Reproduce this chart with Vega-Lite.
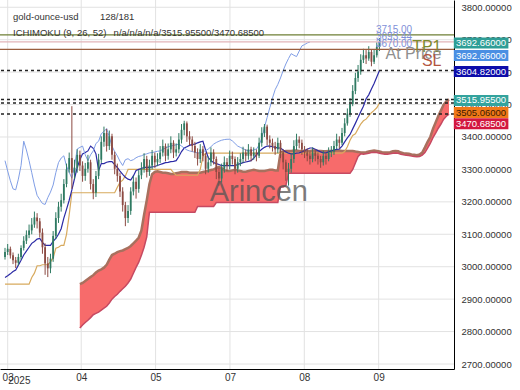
{
"$schema": "https://vega.github.io/schema/vega-lite/v6.json",
"width": 454, "height": 369,
"autosize": {"type": "none"},
"padding": {"left": 0, "top": 0, "right": 66, "bottom": 21},
"background": "#ffffff",
"config": {"view": {"stroke": null}, "font": "Liberation Sans"},
"resolve": {"axis": {"x": "independent", "y": "independent"}},
"datasets": {
"gridx": [{"g":1},{"g":28.5},{"g":56.3},{"g":84.1},{"g":111.9},{"g":139.7}],
"gridy": [{"g":2700},{"g":2800},{"g":2900},{"g":3000},{"g":3100},{"g":3200},{"g":3300},{"g":3400},{"g":3500},{"g":3600},{"g":3700},{"g":3800}],
"bars": [
{"i":0,"o":3030,"h":3058,"l":3022,"c":3045,"tk":2967,"kj":2946,"ck":3327},
{"i":1,"o":3045,"h":3070,"l":3036,"c":3055,"tk":2972,"kj":2946,"ck":3295},
{"i":2,"o":3055,"h":3062,"l":3025,"c":3035,"tk":2978,"kj":2946,"ck":3265},
{"i":3,"o":3035,"h":3044,"l":3008,"c":3020,"tk":2985,"kj":2946,"ck":3240},
{"i":4,"o":3020,"h":3030,"l":2996,"c":3012,"tk":2990,"kj":2946,"ck":3237},
{"i":5,"o":3012,"h":3040,"l":3004,"c":3030,"tk":3005,"kj":2946,"ck":3270},
{"i":6,"o":3030,"h":3066,"l":3022,"c":3058,"tk":3020,"kj":2946,"ck":3312},
{"i":7,"o":3058,"h":3094,"l":3050,"c":3080,"tk":3036,"kj":2946,"ck":3387},
{"i":8,"o":3080,"h":3112,"l":3070,"c":3098,"tk":3048,"kj":2946,"ck":3360},
{"i":9,"o":3098,"h":3130,"l":3088,"c":3112,"tk":3060,"kj":2946,"ck":3327},
{"i":10,"o":3112,"h":3150,"l":3100,"c":3130,"tk":3072,"kj":2967,"ck":3290},
{"i":11,"o":3130,"h":3170,"l":3120,"c":3152,"tk":3078,"kj":2980,"ck":3252},
{"i":12,"o":3152,"h":3165,"l":3118,"c":3140,"tk":3085,"kj":3003,"ck":3220},
{"i":13,"o":3140,"h":3150,"l":3090,"c":3105,"tk":3087,"kj":3003,"ck":3207},
{"i":14,"o":3105,"h":3118,"l":3040,"c":3060,"tk":3075,"kj":3006,"ck":3195},
{"i":15,"o":3060,"h":3072,"l":2975,"c":3010,"tk":3066,"kj":3006,"ck":3192},
{"i":16,"o":3010,"h":3030,"l":2968,"c":2995,"tk":3066,"kj":3006,"ck":3213},
{"i":17,"o":2995,"h":3040,"l":2980,"c":3025,"tk":3066,"kj":3015,"ck":3230},
{"i":18,"o":3025,"h":3110,"l":3015,"c":3095,"tk":3078,"kj":3027,"ck":3252},
{"i":19,"o":3095,"h":3168,"l":3085,"c":3150,"tk":3087,"kj":3057,"ck":3290},
{"i":20,"o":3150,"h":3200,"l":3135,"c":3185,"tk":3100,"kj":3060,"ck":3321},
{"i":21,"o":3185,"h":3225,"l":3170,"c":3205,"tk":3117,"kj":3066,"ck":3335},
{"i":22,"o":3205,"h":3270,"l":3195,"c":3255,"tk":3150,"kj":3066,"ck":3342},
{"i":23,"o":3255,"h":3318,"l":3245,"c":3300,"tk":3177,"kj":3100,"ck":3310},
{"i":24,"o":3300,"h":3352,"l":3290,"c":3335,"tk":3205,"kj":3160,"ck":3291},
{"i":25,"o":3335,"h":3495,"l":3240,"c":3290,"tk":3237,"kj":3228,"ck":3273},
{"i":26,"o":3290,"h":3330,"l":3270,"c":3305,"tk":3272,"kj":3228,"ck":3310},
{"i":27,"o":3305,"h":3362,"l":3290,"c":3345,"tk":3306,"kj":3228,"ck":3363},
{"i":28,"o":3345,"h":3358,"l":3295,"c":3312,"tk":3330,"kj":3228,"ck":3368},
{"i":29,"o":3312,"h":3325,"l":3262,"c":3280,"tk":3348,"kj":3228,"ck":3372},
{"i":30,"o":3280,"h":3320,"l":3265,"c":3302,"tk":3352,"kj":3228,"ck":3345},
{"i":31,"o":3302,"h":3345,"l":3290,"c":3322,"tk":3357,"kj":3228,"ck":3327},
{"i":32,"o":3322,"h":3330,"l":3238,"c":3255,"tk":3372,"kj":3228,"ck":3345},
{"i":33,"o":3255,"h":3270,"l":3208,"c":3228,"tk":3365,"kj":3228,"ck":3357},
{"i":34,"o":3228,"h":3295,"l":3215,"c":3280,"tk":3348,"kj":3228,"ck":3380},
{"i":35,"o":3280,"h":3348,"l":3270,"c":3330,"tk":3297,"kj":3228,"ck":3387},
{"i":36,"o":3330,"h":3402,"l":3320,"c":3385,"tk":3318,"kj":3228,"ck":3410},
{"i":37,"o":3385,"h":3432,"l":3370,"c":3412,"tk":3318,"kj":3228,"ck":3417},
{"i":38,"o":3412,"h":3425,"l":3355,"c":3372,"tk":3322,"kj":3228,"ck":3426},
{"i":39,"o":3372,"h":3420,"l":3360,"c":3402,"tk":3324,"kj":3228,"ck":3400},
{"i":40,"o":3402,"h":3410,"l":3330,"c":3345,"tk":3324,"kj":3228,"ck":3372},
{"i":41,"o":3345,"h":3355,"l":3285,"c":3302,"tk":3315,"kj":3228,"ck":3355},
{"i":42,"o":3302,"h":3318,"l":3262,"c":3280,"tk":3306,"kj":3245,"ck":3342},
{"i":43,"o":3280,"h":3290,"l":3215,"c":3232,"tk":3295,"kj":3260,"ck":3325},
{"i":44,"o":3232,"h":3245,"l":3170,"c":3190,"tk":3285,"kj":3267,"ck":3312},
{"i":45,"o":3190,"h":3200,"l":3125,"c":3150,"tk":3276,"kj":3280,"ck":3330},
{"i":46,"o":3150,"h":3190,"l":3135,"c":3172,"tk":3270,"kj":3300,"ck":3333},
{"i":47,"o":3172,"h":3245,"l":3160,"c":3232,"tk":3267,"kj":3300,"ck":3327},
{"i":48,"o":3232,"h":3280,"l":3220,"c":3262,"tk":3280,"kj":3300,"ck":3330},
{"i":49,"o":3262,"h":3275,"l":3210,"c":3240,"tk":3297,"kj":3300,"ck":3336},
{"i":50,"o":3240,"h":3298,"l":3228,"c":3282,"tk":3300,"kj":3300,"ck":3340},
{"i":51,"o":3282,"h":3322,"l":3270,"c":3302,"tk":3303,"kj":3300,"ck":3342},
{"i":52,"o":3302,"h":3350,"l":3290,"c":3332,"tk":3306,"kj":3300,"ck":3346},
{"i":53,"o":3332,"h":3342,"l":3275,"c":3292,"tk":3306,"kj":3300,"ck":3348},
{"i":54,"o":3292,"h":3330,"l":3280,"c":3312,"tk":3306,"kj":3300,"ck":3351},
{"i":55,"o":3312,"h":3360,"l":3300,"c":3342,"tk":3308,"kj":3300,"ck":3352},
{"i":56,"o":3342,"h":3352,"l":3305,"c":3322,"tk":3309,"kj":3300,"ck":3354},
{"i":57,"o":3322,"h":3350,"l":3310,"c":3332,"tk":3312,"kj":3300,"ck":3356},
{"i":58,"o":3332,"h":3372,"l":3320,"c":3352,"tk":3315,"kj":3300,"ck":3357},
{"i":59,"o":3352,"h":3392,"l":3340,"c":3372,"tk":3318,"kj":3300,"ck":3362},
{"i":60,"o":3372,"h":3380,"l":3325,"c":3342,"tk":3321,"kj":3300,"ck":3366},
{"i":61,"o":3342,"h":3380,"l":3330,"c":3362,"tk":3322,"kj":3300,"ck":3370},
{"i":62,"o":3362,"h":3402,"l":3350,"c":3382,"tk":3324,"kj":3300,"ck":3372},
{"i":63,"o":3382,"h":3390,"l":3335,"c":3352,"tk":3325,"kj":3290,"ck":3374},
{"i":64,"o":3352,"h":3380,"l":3340,"c":3362,"tk":3327,"kj":3282,"ck":3376},
{"i":65,"o":3362,"h":3412,"l":3350,"c":3392,"tk":3340,"kj":3282,"ck":3378},
{"i":66,"o":3392,"h":3440,"l":3380,"c":3422,"tk":3355,"kj":3282,"ck":3372},
{"i":67,"o":3422,"h":3450,"l":3405,"c":3442,"tk":3366,"kj":3282,"ck":3366},
{"i":68,"o":3442,"h":3448,"l":3385,"c":3402,"tk":3370,"kj":3282,"ck":3360},
{"i":69,"o":3402,"h":3418,"l":3375,"c":3392,"tk":3374,"kj":3282,"ck":3357},
{"i":70,"o":3392,"h":3402,"l":3355,"c":3372,"tk":3377,"kj":3282,"ck":3355},
{"i":71,"o":3372,"h":3385,"l":3335,"c":3352,"tk":3378,"kj":3282,"ck":3353},
{"i":72,"o":3352,"h":3365,"l":3312,"c":3332,"tk":3382,"kj":3282,"ck":3351},
{"i":73,"o":3332,"h":3378,"l":3320,"c":3362,"tk":3385,"kj":3300,"ck":3351},
{"i":74,"o":3362,"h":3372,"l":3325,"c":3342,"tk":3387,"kj":3340,"ck":3355},
{"i":75,"o":3342,"h":3350,"l":3285,"c":3302,"tk":3360,"kj":3350,"ck":3358},
{"i":76,"o":3302,"h":3340,"l":3290,"c":3322,"tk":3336,"kj":3350,"ck":3363},
{"i":77,"o":3322,"h":3368,"l":3310,"c":3352,"tk":3328,"kj":3350,"ck":3370},
{"i":78,"o":3352,"h":3362,"l":3315,"c":3332,"tk":3321,"kj":3350,"ck":3378},
{"i":79,"o":3332,"h":3340,"l":3270,"c":3292,"tk":3318,"kj":3350,"ck":3383},
{"i":80,"o":3292,"h":3305,"l":3250,"c":3272,"tk":3315,"kj":3350,"ck":3387},
{"i":81,"o":3272,"h":3318,"l":3260,"c":3302,"tk":3312,"kj":3350,"ck":3390},
{"i":82,"o":3302,"h":3340,"l":3290,"c":3322,"tk":3312,"kj":3350,"ck":3392},
{"i":83,"o":3322,"h":3335,"l":3295,"c":3312,"tk":3312,"kj":3350,"ck":3393},
{"i":84,"o":3312,"h":3358,"l":3300,"c":3342,"tk":3312,"kj":3350,"ck":3393},
{"i":85,"o":3342,"h":3355,"l":3315,"c":3332,"tk":3312,"kj":3350,"ck":3388},
{"i":86,"o":3332,"h":3340,"l":3285,"c":3302,"tk":3312,"kj":3350,"ck":3380},
{"i":87,"o":3302,"h":3338,"l":3290,"c":3322,"tk":3315,"kj":3350,"ck":3372},
{"i":88,"o":3322,"h":3350,"l":3310,"c":3332,"tk":3318,"kj":3350,"ck":3368},
{"i":89,"o":3332,"h":3370,"l":3320,"c":3352,"tk":3321,"kj":3350,"ck":3364},
{"i":90,"o":3352,"h":3362,"l":3325,"c":3342,"tk":3323,"kj":3350,"ck":3360},
{"i":91,"o":3342,"h":3378,"l":3330,"c":3362,"tk":3325,"kj":3350,"ck":3357},
{"i":92,"o":3362,"h":3370,"l":3325,"c":3342,"tk":3327,"kj":3350,"ck":3358},
{"i":93,"o":3342,"h":3368,"l":3330,"c":3352,"tk":3335,"kj":3350,"ck":3360},
{"i":94,"o":3352,"h":3362,"l":3325,"c":3342,"tk":3345,"kj":3350,"ck":3363},
{"i":95,"o":3342,"h":3398,"l":3335,"c":3382,"tk":3355,"kj":3350,"ck":3375},
{"i":96,"o":3382,"h":3430,"l":3370,"c":3412,"tk":3362,"kj":3350,"ck":3396},
{"i":97,"o":3412,"h":3440,"l":3400,"c":3432,"tk":3368,"kj":3350,"ck":3430},
{"i":98,"o":3432,"h":3438,"l":3375,"c":3392,"tk":3372,"kj":3350,"ck":3460},
{"i":99,"o":3392,"h":3405,"l":3365,"c":3382,"tk":3372,"kj":3350,"ck":3490},
{"i":100,"o":3382,"h":3395,"l":3355,"c":3372,"tk":3370,"kj":3350,"ck":3520},
{"i":101,"o":3372,"h":3385,"l":3345,"c":3362,"tk":3368,"kj":3350,"ck":3546},
{"i":102,"o":3362,"h":3398,"l":3350,"c":3382,"tk":3366,"kj":3350,"ck":3562},
{"i":103,"o":3382,"h":3390,"l":3335,"c":3352,"tk":3366,"kj":3350,"ck":3582},
{"i":104,"o":3352,"h":3362,"l":3300,"c":3322,"tk":3360,"kj":3350,"ck":3605},
{"i":105,"o":3322,"h":3330,"l":3265,"c":3292,"tk":3354,"kj":3350,"ck":3625},
{"i":106,"o":3292,"h":3320,"l":3250,"c":3302,"tk":3350,"kj":3350,"ck":3642},
{"i":107,"o":3302,"h":3350,"l":3290,"c":3332,"tk":3348,"kj":3350,"ck":3657},
{"i":108,"o":3332,"h":3390,"l":3320,"c":3372,"tk":3348,"kj":3350,"ck":3652},
{"i":109,"o":3372,"h":3410,"l":3360,"c":3392,"tk":3350,"kj":3350,"ck":3648},
{"i":110,"o":3392,"h":3402,"l":3365,"c":3382,"tk":3351,"kj":3350,"ck":3665},
{"i":111,"o":3382,"h":3392,"l":3345,"c":3362,"tk":3354,"kj":3350,"ck":3681},
{"i":112,"o":3362,"h":3372,"l":3335,"c":3352,"tk":3358,"kj":3350,"ck":3685},
{"i":113,"o":3352,"h":3365,"l":3325,"c":3342,"tk":3362,"kj":3350,"ck":3690},
{"i":114,"o":3342,"h":3355,"l":3315,"c":3332,"tk":3366,"kj":3350,"ck":3692.66},
{"i":115,"o":3332,"h":3368,"l":3322,"c":3352,"tk":3366,"kj":3350},
{"i":116,"o":3352,"h":3362,"l":3325,"c":3342,"tk":3362,"kj":3350},
{"i":117,"o":3342,"h":3352,"l":3315,"c":3332,"tk":3358,"kj":3350},
{"i":118,"o":3332,"h":3342,"l":3305,"c":3322,"tk":3354,"kj":3350},
{"i":119,"o":3322,"h":3358,"l":3312,"c":3342,"tk":3351,"kj":3350},
{"i":120,"o":3342,"h":3352,"l":3315,"c":3332,"tk":3351,"kj":3350},
{"i":121,"o":3332,"h":3368,"l":3325,"c":3352,"tk":3354,"kj":3350},
{"i":122,"o":3352,"h":3372,"l":3338,"c":3355,"tk":3357,"kj":3350},
{"i":123,"o":3355,"h":3388,"l":3345,"c":3372,"tk":3360,"kj":3350},
{"i":124,"o":3372,"h":3410,"l":3362,"c":3392,"tk":3362,"kj":3350},
{"i":125,"o":3392,"h":3402,"l":3365,"c":3382,"tk":3363,"kj":3350},
{"i":126,"o":3382,"h":3428,"l":3375,"c":3412,"tk":3372,"kj":3350},
{"i":127,"o":3412,"h":3458,"l":3402,"c":3442,"tk":3385,"kj":3355},
{"i":128,"o":3442,"h":3488,"l":3435,"c":3472,"tk":3397,"kj":3370},
{"i":129,"o":3472,"h":3520,"l":3462,"c":3502,"tk":3408,"kj":3390},
{"i":130,"o":3502,"h":3560,"l":3495,"c":3542,"tk":3425,"kj":3405},
{"i":131,"o":3542,"h":3598,"l":3532,"c":3582,"tk":3442,"kj":3410},
{"i":132,"o":3582,"h":3622,"l":3570,"c":3602,"tk":3460,"kj":3425},
{"i":133,"o":3602,"h":3655,"l":3592,"c":3638,"tk":3478,"kj":3440},
{"i":134,"o":3638,"h":3672,"l":3628,"c":3652,"tk":3495,"kj":3450},
{"i":135,"o":3652,"h":3668,"l":3625,"c":3642,"tk":3518,"kj":3455},
{"i":136,"o":3642,"h":3680,"l":3635,"c":3662,"tk":3530,"kj":3465},
{"i":137,"o":3662,"h":3670,"l":3618,"c":3632,"tk":3548,"kj":3475},
{"i":138,"o":3632,"h":3670,"l":3625,"c":3652,"tk":3565,"kj":3482},
{"i":139,"o":3652,"h":3692,"l":3645,"c":3678,"tk":3585,"kj":3490},
{"i":140,"o":3678,"h":3705,"l":3665,"c":3692.66,"tk":3604.82,"kj":3505.06}
],
"cloud": [
{"i":28,"sa":2946,"sb":2811},{"i":29,"sa":2950,"sb":2820},{"i":30,"sa":2956,"sb":2828},{"i":31,"sa":2962,"sb":2835},
{"i":32,"sa":2968,"sb":2843},{"i":33,"sa":2974,"sb":2852},{"i":34,"sa":2982,"sb":2856},{"i":35,"sa":2988,"sb":2860},
{"i":36,"sa":2992,"sb":2866},{"i":37,"sa":2997,"sb":2872},{"i":38,"sa":3006,"sb":2878},{"i":39,"sa":3022,"sb":2888},
{"i":40,"sa":3036,"sb":2900},{"i":41,"sa":3040,"sb":2908},{"i":42,"sa":3045,"sb":2915},{"i":43,"sa":3048,"sb":2924},
{"i":44,"sa":3050,"sb":2932},{"i":45,"sa":3054,"sb":2940},{"i":46,"sa":3058,"sb":2950},{"i":47,"sa":3064,"sb":2962},
{"i":48,"sa":3072,"sb":2980},{"i":49,"sa":3080,"sb":2998},{"i":50,"sa":3090,"sb":3014},{"i":51,"sa":3112,"sb":3035},
{"i":52,"sa":3160,"sb":3060},{"i":53,"sa":3205,"sb":3092},{"i":54,"sa":3255,"sb":3168},{"i":55,"sa":3285,"sb":3168},
{"i":56,"sa":3292,"sb":3168},{"i":57,"sa":3294,"sb":3168},{"i":58,"sa":3292,"sb":3168},{"i":59,"sa":3290,"sb":3168},
{"i":60,"sa":3290,"sb":3168},{"i":61,"sa":3288,"sb":3168},{"i":62,"sa":3286,"sb":3168},{"i":63,"sa":3286,"sb":3168},
{"i":64,"sa":3288,"sb":3168},{"i":65,"sa":3290,"sb":3168},{"i":66,"sa":3292,"sb":3168},{"i":67,"sa":3292,"sb":3168},
{"i":68,"sa":3292,"sb":3168},{"i":69,"sa":3290,"sb":3168},{"i":70,"sa":3290,"sb":3168},{"i":71,"sa":3290,"sb":3168},
{"i":72,"sa":3290,"sb":3186},{"i":73,"sa":3290,"sb":3186},{"i":74,"sa":3292,"sb":3186},{"i":75,"sa":3294,"sb":3186},
{"i":76,"sa":3296,"sb":3186},{"i":77,"sa":3298,"sb":3186},{"i":78,"sa":3300,"sb":3186},{"i":79,"sa":3304,"sb":3198},
{"i":80,"sa":3308,"sb":3198},{"i":81,"sa":3304,"sb":3198},{"i":82,"sa":3298,"sb":3198},{"i":83,"sa":3295,"sb":3198},
{"i":84,"sa":3295,"sb":3198},{"i":85,"sa":3297,"sb":3198},{"i":86,"sa":3299,"sb":3198},{"i":87,"sa":3297,"sb":3198},
{"i":88,"sa":3295,"sb":3198},{"i":89,"sa":3293,"sb":3198},{"i":90,"sa":3293,"sb":3198},{"i":91,"sa":3295,"sb":3198},
{"i":92,"sa":3297,"sb":3198},{"i":93,"sa":3299,"sb":3198},{"i":94,"sa":3297,"sb":3198},{"i":95,"sa":3295,"sb":3198},
{"i":96,"sa":3295,"sb":3198},{"i":97,"sa":3295,"sb":3198},{"i":98,"sa":3297,"sb":3198},{"i":99,"sa":3299,"sb":3198},
{"i":100,"sa":3299,"sb":3198},{"i":101,"sa":3297,"sb":3198},{"i":102,"sa":3297,"sb":3198},{"i":103,"sa":3352,"sb":3246},
{"i":104,"sa":3355,"sb":3246},{"i":105,"sa":3357,"sb":3250},{"i":106,"sa":3357,"sb":3288},{"i":107,"sa":3357,"sb":3288},
{"i":108,"sa":3358,"sb":3288},{"i":109,"sa":3358,"sb":3288},{"i":110,"sa":3357,"sb":3288},{"i":111,"sa":3357,"sb":3288},
{"i":112,"sa":3356,"sb":3288},{"i":113,"sa":3356,"sb":3288},{"i":114,"sa":3357,"sb":3288},{"i":115,"sa":3358,"sb":3288},
{"i":116,"sa":3358,"sb":3288},{"i":117,"sa":3357,"sb":3288},{"i":118,"sa":3357,"sb":3288},{"i":119,"sa":3356,"sb":3288},
{"i":120,"sa":3356,"sb":3288},{"i":121,"sa":3357,"sb":3288},{"i":122,"sa":3357,"sb":3288},{"i":123,"sa":3357,"sb":3288},
{"i":124,"sa":3358,"sb":3288},{"i":125,"sa":3358,"sb":3288},{"i":126,"sa":3357,"sb":3288},{"i":127,"sa":3357,"sb":3288},
{"i":128,"sa":3357,"sb":3288},{"i":129,"sa":3357,"sb":3288},{"i":130,"sa":3357,"sb":3300},{"i":131,"sa":3355,"sb":3320},
{"i":132,"sa":3354,"sb":3340},{"i":133,"sa":3352,"sb":3348},{"i":134,"sa":3352,"sb":3347},{"i":135,"sa":3353,"sb":3348},
{"i":136,"sa":3355,"sb":3350},{"i":137,"sa":3357,"sb":3352},{"i":138,"sa":3358,"sb":3353},{"i":139,"sa":3357,"sb":3352},
{"i":140,"sa":3355,"sb":3350},{"i":141,"sa":3353,"sb":3348},{"i":142,"sa":3352,"sb":3347},{"i":143,"sa":3352,"sb":3347},
{"i":144,"sa":3353,"sb":3348},{"i":145,"sa":3356,"sb":3350},{"i":146,"sa":3357,"sb":3351},{"i":147,"sa":3356,"sb":3350},
{"i":148,"sa":3352,"sb":3347},{"i":149,"sa":3350,"sb":3345},{"i":150,"sa":3349,"sb":3344},{"i":151,"sa":3348,"sb":3343},
{"i":152,"sa":3346,"sb":3341},{"i":153,"sa":3345,"sb":3340},{"i":154,"sa":3344,"sb":3339},{"i":155,"sa":3346,"sb":3340},
{"i":156,"sa":3352,"sb":3344},{"i":157,"sa":3368,"sb":3352},{"i":158,"sa":3385,"sb":3366},{"i":159,"sa":3400,"sb":3380},
{"i":160,"sa":3425,"sb":3398},{"i":161,"sa":3445,"sb":3412},{"i":162,"sa":3465,"sb":3427},{"i":163,"sa":3482,"sb":3440},
{"i":164,"sa":3500,"sb":3455},{"i":165,"sa":3510,"sb":3464},{"i":166,"sa":3515.955,"sb":3470.685}
],
"levels": [
{"v":3715,"k":"TP1","t":"3715.00"},
{"v":3693.44,"k":"At Price","t":"3693.44"},
{"v":3670,"k":"SL","t":"3670.00"}
],
"tags": [
{"v":3692.66,"s":"close"},
{"v":3692.66,"s":"chikou"},
{"v":3604.82,"s":"tenkan"},
{"v":3515.955,"s":"spanA"},
{"v":3505.06,"s":"kijun"},
{"v":3470.685,"s":"spanB"}
],
"notes": [
{"t":"gold-ounce-usd","n":"name"},
{"t":"128/181","n":"count"},
{"t":"ICHIMOKU (9, 26, 52)","n":"ind"},
{"t":"n/a/n/a/n/a/3515.95500/3470.68500","n":"vals"},
{"t":"Arincen","n":"mark"},
{"t":"2025","n":"year"}
]
},
"layer": [
{"data": {"name": "cloud"}, "mark": {"type": "area", "color": "#f76b6b", "opacity": 1},
 "encoding": {
  "x": {"field": "i", "type": "quantitative", "scale": {"domain": [0, 166], "nice": false, "zero": false},
   "axis": {"title": null, "values": [1, 28.5, 56.3, 84.1, 111.9, 139.7],
    "labelExpr": "datum.value < 10 ? '03' : datum.value < 40 ? '04' : datum.value < 70 ? '05' : datum.value < 100 ? '07' : datum.value < 125 ? '08' : '09'",
    "labelFontSize": 10, "labelColor": "#333333", "labelPadding": 3, "labelFlush": 5,
    "ticks": false, "domainColor": "#000000", "grid": false}},
  "y": {"field": "sa", "type": "quantitative", "scale": {"domain": [2700, 3807], "nice": false, "zero": false},
   "axis": {"orient": "right", "title": null, "values": [2700,2800,2900,3000,3100,3200,3300,3400,3500,3600,3700,3800],
     "format": ".5f", "labelFontSize": 9.5, "labelColor": "#333333", "labelPadding": 7, "ticks": false, "labelOverlap": false, "labelFlush": false, "labelBound": false,
     "domainColor": "#000000", "grid": false}},
  "y2": {"field": "sb"}}},
{"data": {"name": "gridx"}, "mark": {"type": "rule", "color": "#e2e2e2", "strokeWidth": 1},
 "encoding": {"x": {"field": "g", "type": "quantitative", "axis": null}}},
{"data": {"name": "gridy"}, "mark": {"type": "rule", "color": "#e2e2e2", "strokeWidth": 1},
 "encoding": {"y": {"field": "g", "type": "quantitative", "axis": null}}},
{"data": {"name": "cloud"}, "mark": {"type": "area", "color": "#f76b6b", "opacity": 1},
 "encoding": {"x": {"field": "i", "type": "quantitative", "axis": null}, "y": {"field": "sa", "type": "quantitative", "axis": null}, "y2": {"field": "sb"}}},
{"data": {"name": "cloud"}, "mark": {"type": "line", "color": "#a8705e", "strokeWidth": 2.5},
 "encoding": {"x": {"field": "i", "type": "quantitative", "axis": null}, "y": {"field": "sa", "type": "quantitative", "axis": null}}},
{"data": {"name": "cloud"}, "mark": {"type": "line", "color": "#c64a62", "strokeWidth": 1.5},
 "encoding": {"x": {"field": "i", "type": "quantitative", "axis": null}, "y": {"field": "sb", "type": "quantitative", "axis": null}}},
{"data": {"name": "bars"}, "mark": {"type": "line", "color": "#d8aa5e", "strokeWidth": 1.2},
 "encoding": {"x": {"field": "i", "type": "quantitative", "axis": null}, "y": {"field": "kj", "type": "quantitative", "axis": null}}},
{"data": {"name": "bars"}, "mark": {"type": "line", "color": "#2b2aa5", "strokeWidth": 1.2},
 "encoding": {"x": {"field": "i", "type": "quantitative", "axis": null}, "y": {"field": "tk", "type": "quantitative", "axis": null}}},
{"data": {"name": "bars"}, "mark": {"type": "line", "color": "#809ee6", "strokeWidth": 1},
 "encoding": {"x": {"field": "i", "type": "quantitative", "axis": null}, "y": {"field": "ck", "type": "quantitative", "axis": null}}},
{"data": {"name": "bars"}, "mark": {"type": "rule", "strokeWidth": 1},
 "encoding": {"x": {"field": "i", "type": "quantitative", "axis": null},
  "y": {"field": "l", "type": "quantitative", "axis": null}, "y2": {"field": "h"},
  "color": {"condition": {"test": "datum.c >= datum.o", "value": "#2f7a62"}, "value": "#8c4a42"}}},
{"data": {"name": "bars"}, "mark": {"type": "bar"},
 "encoding": {"x": {"field": "i", "type": "quantitative", "axis": null},
  "y": {"field": "o", "type": "quantitative", "axis": null}, "y2": {"field": "c"},
  "size": {"value": 1.8},
  "color": {"condition": {"test": "datum.c >= datum.o", "value": "#2f7a62"}, "value": "#8c4a42"}}},
{"data": {"name": "levels"}, "mark": {"type": "rule", "strokeWidth": 1.2},
 "encoding": {"y": {"field": "v", "type": "quantitative", "axis": null},
  "color": {"condition": [{"test": "datum.k === 'TP1'", "value": "#6e7f35"}, {"test": "datum.k === 'SL'", "value": "#9a5e3e"}], "value": "#e2b4b8"}}},
{"data": {"name": "tags"}, "transform": [{"filter": {"field": "s", "oneOf": ["tenkan", "spanA", "kijun", "spanB"]}}],
 "mark": {"type": "rule", "color": "#222222", "strokeWidth": 1.5, "strokeDash": [3, 3]},
 "encoding": {"y": {"field": "v", "type": "quantitative", "axis": null}}},
{"data": {"name": "levels"}, "mark": {"type": "text", "align": "left", "baseline": "alphabetic", "dy": -2, "fontSize": 10, "color": "#7f90d8"},
 "encoding": {"x": {"datum": 138.7, "type": "quantitative", "axis": null}, "y": {"field": "v", "type": "quantitative", "axis": null}, "text": {"field": "t", "type": "nominal"}}},
{"data": {"name": "levels"}, "mark": {"type": "text", "align": "right", "baseline": "middle", "dy": 12, "fontSize": 16},
 "encoding": {"x": {"datum": 163.2, "type": "quantitative", "axis": null}, "y": {"field": "v", "type": "quantitative", "axis": null}, "text": {"field": "k", "type": "nominal"},
  "color": {"condition": [{"test": "datum.k === 'TP1'", "value": "#7c8a2e"}, {"test": "datum.k === 'SL'", "value": "#b2543e"}], "value": "#8f8f8f"}}},
{"data": {"name": "notes"}, "transform": [{"filter": "datum.n === 'mark'"}],
 "mark": {"type": "text", "fontSize": 29, "color": "#555555", "opacity": 0.75, "align": "center", "baseline": "middle"},
 "encoding": {"x": {"datum": 94.9, "type": "quantitative", "axis": null}, "y": {"datum": 3231, "type": "quantitative", "axis": null}, "text": {"field": "t", "type": "nominal"}}},
{"data": {"name": "tags"}, "transform": [{"filter": {"field": "s", "oneOf": ["close", "tenkan", "spanA"]}}],
 "mark": {"type": "bar", "yOffset": 1},
 "encoding": {"x": {"datum": 167.8, "type": "quantitative", "axis": null}, "x2": {"datum": 188.2}, "y": {"field": "v", "type": "quantitative", "axis": null},
  "size": {"value": 11},
  "color": {"condition": [{"test": "datum.s === 'tenkan'", "value": "#0d0daa"}, {"test": "datum.s === 'spanA'", "value": "#33a39d"}], "value": "#2e9e96"}}},
{"data": {"name": "tags"}, "transform": [{"filter": {"field": "s", "oneOf": ["chikou"]}}],
 "mark": {"type": "bar", "yOffset": 13.5, "color": "#4a8fe3"},
 "encoding": {"x": {"datum": 167.8, "type": "quantitative", "axis": null}, "x2": {"datum": 188.2}, "y": {"field": "v", "type": "quantitative", "axis": null},
  "size": {"value": 11}}},
{"data": {"name": "tags"}, "transform": [{"filter": {"field": "s", "oneOf": ["kijun", "spanB"]}}],
 "mark": {"type": "bar", "yOffset": 9.7},
 "encoding": {"x": {"datum": 167.8, "type": "quantitative", "axis": null}, "x2": {"datum": 188.2}, "y": {"field": "v", "type": "quantitative", "axis": null},
  "size": {"value": 11},
  "color": {"condition": {"test": "datum.s === 'kijun'", "value": "#f07818"}, "value": "#d3173f"}}},
{"data": {"name": "tags"}, "transform": [{"filter": {"field": "s", "oneOf": ["close", "tenkan", "spanA"]}}],
 "mark": {"type": "text", "align": "left", "baseline": "middle", "dy": 1, "fontSize": 9.5, "color": "#ffffff"},
 "encoding": {"x": {"datum": 168.6, "type": "quantitative", "axis": null}, "y": {"field": "v", "type": "quantitative", "axis": null},
  "text": {"field": "v", "type": "quantitative", "format": ".5f"}}},
{"data": {"name": "tags"}, "transform": [{"filter": {"field": "s", "oneOf": ["chikou"]}}],
 "mark": {"type": "text", "align": "left", "baseline": "middle", "dy": 13.5, "fontSize": 9.5, "color": "#ffffff"},
 "encoding": {"x": {"datum": 168.6, "type": "quantitative", "axis": null}, "y": {"field": "v", "type": "quantitative", "axis": null},
  "text": {"field": "v", "type": "quantitative", "format": ".5f"}}},
{"data": {"name": "tags"}, "transform": [{"filter": {"field": "s", "oneOf": ["kijun", "spanB"]}}],
 "mark": {"type": "text", "align": "left", "baseline": "middle", "dy": 9.7, "fontSize": 9.5},
 "encoding": {"x": {"datum": 168.6, "type": "quantitative", "axis": null}, "y": {"field": "v", "type": "quantitative", "axis": null},
  "text": {"field": "v", "type": "quantitative", "format": ".5f"},
  "color": {"condition": {"test": "datum.s === 'kijun'", "value": "#3b1800"}, "value": "#ffffff"}}},
{"data": {"name": "notes"}, "transform": [{"filter": "datum.n === 'name'"}],
 "mark": {"type": "text", "fontSize": 9.5, "color": "#333333", "align": "left", "baseline": "middle"},
 "encoding": {"x": {"datum": 3, "type": "quantitative", "axis": null}, "y": {"datum": 3771, "type": "quantitative", "axis": null}, "text": {"field": "t", "type": "nominal"}}},
{"data": {"name": "notes"}, "transform": [{"filter": "datum.n === 'count'"}],
 "mark": {"type": "text", "fontSize": 9.5, "color": "#333333", "align": "left", "baseline": "middle"},
 "encoding": {"x": {"datum": 35.5, "type": "quantitative", "axis": null}, "y": {"datum": 3771, "type": "quantitative", "axis": null}, "text": {"field": "t", "type": "nominal"}}},
{"data": {"name": "notes"}, "transform": [{"filter": "datum.n === 'ind'"}],
 "mark": {"type": "text", "fontSize": 9.5, "color": "#333333", "align": "left", "baseline": "middle"},
 "encoding": {"x": {"datum": 3, "type": "quantitative", "axis": null}, "y": {"datum": 3720, "type": "quantitative", "axis": null}, "text": {"field": "t", "type": "nominal"}}},
{"data": {"name": "notes"}, "transform": [{"filter": "datum.n === 'vals'"}],
 "mark": {"type": "text", "fontSize": 9.5, "color": "#333333", "align": "left", "baseline": "middle"},
 "encoding": {"x": {"datum": 40.6, "type": "quantitative", "axis": null}, "y": {"datum": 3720, "type": "quantitative", "axis": null}, "text": {"field": "t", "type": "nominal"}}},
{"data": {"name": "notes"}, "transform": [{"filter": "datum.n === 'year'"}],
 "mark": {"type": "text", "fontSize": 10, "color": "#333333", "align": "left", "baseline": "middle"},
 "encoding": {"x": {"datum": 1.2, "type": "quantitative", "axis": null}, "y": {"datum": 2649, "type": "quantitative", "axis": null}, "text": {"field": "t", "type": "nominal"}}}
]
}
